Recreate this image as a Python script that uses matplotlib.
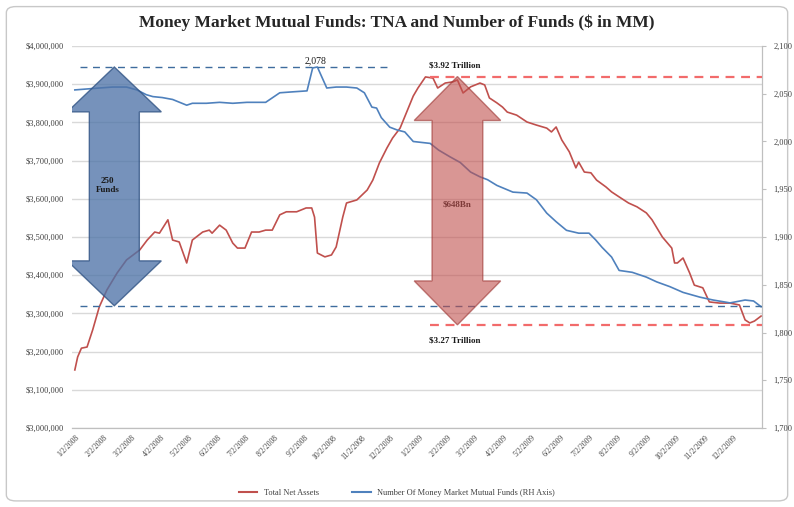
import numpy as np
import pandas as pd
import matplotlib
matplotlib.use('Agg')
import matplotlib.pyplot as plt
import matplotlib.dates as mdates
from matplotlib.patches import Polygon, FancyBboxPatch
from matplotlib.lines import Line2D
from matplotlib.ticker import FuncFormatter

plt.rcParams['font.family'] = ['Liberation Serif', 'DejaVu Serif']

# ---- data ----
tna_dates = ['2008-01-02', '2008-01-05', '2008-01-09', '2008-01-15', '2008-01-21', '2008-01-28',
             '2008-02-05', '2008-02-16', '2008-02-26', '2008-03-11', '2008-03-19', '2008-03-27',
             '2008-04-01', '2008-04-10', '2008-04-15', '2008-04-22', '2008-04-30', '2008-05-06',
             '2008-05-17', '2008-05-24', '2008-05-27', '2008-06-04', '2008-06-11', '2008-06-18',
             '2008-06-23', '2008-07-01', '2008-07-08', '2008-07-16', '2008-07-23', '2008-07-30',
             '2008-08-07', '2008-08-14', '2008-08-25', '2008-09-04', '2008-09-10', '2008-09-13',
             '2008-09-16', '2008-09-24', '2008-10-01', '2008-10-06', '2008-10-13', '2008-10-17',
             '2008-10-28', '2008-11-08', '2008-11-14', '2008-11-21', '2008-11-29', '2008-12-05',
             '2008-12-13', '2008-12-20', '2008-12-27', '2009-01-01', '2009-01-09', '2009-01-17',
             '2009-01-22', '2009-01-30', '2009-02-07', '2009-02-12', '2009-02-18', '2009-02-26',
             '2009-03-08', '2009-03-13', '2009-03-18', '2009-03-26', '2009-04-01', '2009-04-06',
             '2009-04-16', '2009-04-27', '2009-05-07', '2009-05-18', '2009-05-23', '2009-05-28',
             '2009-06-03', '2009-06-11', '2009-06-18', '2009-06-21', '2009-06-27', '2009-07-04',
             '2009-07-10', '2009-07-20', '2009-07-26', '2009-08-03', '2009-08-13', '2009-08-22',
             '2009-09-01', '2009-09-07', '2009-09-18', '2009-09-28', '2009-10-01', '2009-10-04',
             '2009-10-10', '2009-10-17', '2009-10-22', '2009-10-31', '2009-11-07', '2009-11-18',
             '2009-11-29', '2009-12-09', '2009-12-15', '2009-12-20', '2009-12-25', '2010-01-01']
tna = [3152, 3186, 3209, 3212, 3257, 3317,
       3361, 3406, 3440, 3466, 3492, 3513,
       3510, 3545, 3492, 3487, 3432, 3492,
       3513, 3518, 3510, 3531, 3518, 3484,
       3471, 3471, 3513, 3513, 3518, 3518,
       3558, 3566, 3566, 3576, 3576, 3552,
       3458, 3448, 3453, 3474, 3552, 3589,
       3597, 3623, 3649, 3694, 3733, 3759,
       3785, 3827, 3869, 3890, 3919, 3916,
       3890, 3903, 3906, 3911, 3877, 3893,
       3903, 3898, 3864, 3851, 3840, 3827,
       3819, 3801, 3793, 3785, 3775, 3788,
       3754, 3723, 3681, 3696, 3670, 3668,
       3649, 3631, 3618, 3605, 3589, 3579,
       3563, 3545, 3500, 3471, 3432, 3432,
       3445, 3406, 3374, 3367, 3330, 3327,
       3327, 3322, 3283, 3275, 3280, 3293]  # $ thousands (x1000 below)

fund_dates = ['2008-01-02', '2008-01-15', '2008-01-28', '2008-02-11', '2008-02-26', '2008-03-08',
              '2008-03-18', '2008-03-25', '2008-04-04', '2008-04-15', '2008-04-30', '2008-05-06',
              '2008-05-21', '2008-06-04', '2008-06-18', '2008-07-03', '2008-07-23', '2008-08-07',
              '2008-08-21', '2008-09-05', '2008-09-11', '2008-09-16', '2008-09-26', '2008-10-06',
              '2008-10-17', '2008-10-28', '2008-11-05', '2008-11-13', '2008-11-18', '2008-11-23',
              '2008-12-02', '2008-12-10', '2008-12-18', '2008-12-27', '2009-01-14', '2009-01-23',
              '2009-02-04', '2009-02-15', '2009-02-26', '2009-03-08', '2009-03-16', '2009-03-26',
              '2009-04-12', '2009-04-27', '2009-05-07', '2009-05-18', '2009-05-28', '2009-06-08',
              '2009-06-21', '2009-07-02', '2009-07-09', '2009-07-16', '2009-07-26', '2009-08-03',
              '2009-08-17', '2009-09-01', '2009-09-12', '2009-09-26', '2009-10-10', '2009-10-28',
              '2009-11-11', '2009-11-29', '2009-12-15', '2009-12-24', '2010-01-01']
funds = [2054, 2055, 2056, 2057, 2057, 2054,
         2049, 2047, 2046, 2044, 2038, 2040,
         2040, 2041, 2040, 2041, 2041, 2051,
         2052, 2053, 2077, 2078, 2056, 2057,
         2057, 2056, 2051, 2036, 2035, 2025,
         2015, 2012, 2010, 2000, 1998, 1991,
         1984, 1978, 1968, 1963, 1960, 1954,
         1947, 1946, 1939, 1925, 1916, 1907,
         1904, 1904, 1897, 1889, 1879, 1865,
         1863, 1858, 1853, 1848, 1842, 1837,
         1834, 1831, 1834, 1833, 1827]

month_ticks = pd.date_range('2008-01-01', '2009-12-01', freq='MS') + pd.Timedelta(days=1)
fund_peak, fund_low = 2078, 1828
tna_peak, tna_low = 3920000, 3270000

C_RED = '#c0504d'
C_BLUE = '#4f81bd'
C_GRID = '#d9d9d9'
C_TXT = '#404040'

tna_d = pd.to_datetime(tna_dates)
fund_d = pd.to_datetime(fund_dates)
tna_v = np.array(tna) * 1000.0

fig = plt.figure(figsize=(7.94, 5.07), dpi=100)
fig.patches.append(FancyBboxPatch((0.008, 0.012), 0.984, 0.975, boxstyle='round,pad=0,rounding_size=0.012',
                                  transform=fig.transFigure, facecolor='white', edgecolor='#c8c8c8',
                                  lw=1.0, zorder=-1))
ax = fig.add_axes([0.0907, 0.1558, 0.869, 0.7535])
ax2 = ax.twinx()
ax.set_facecolor('none')

ax.plot(tna_d, tna_v, color=C_RED, lw=1.2, zorder=3)
ax2.plot(fund_d, funds, color=C_BLUE, lw=1.2, zorder=3)

xmin, xmax = pd.Timestamp('2007-12-30'), pd.Timestamp('2010-01-02')
ax.set_xlim(xmin, xmax)
ax.set_ylim(3000000, 4000000)
ax2.set_ylim(1700, 2100)
ax.set_yticks(np.arange(3000000, 4000001, 100000))
ax2.set_yticks(np.arange(1700, 2101, 50))
ax.yaxis.set_major_formatter(FuncFormatter(lambda v, p: f'${v:,.0f}'))
ax2.yaxis.set_major_formatter(FuncFormatter(lambda v, p: f'{v:,.0f}'))
ax.grid(axis='y', color=C_GRID, lw=1.0)
ax.set_axisbelow(True)

ax.set_xticks(month_ticks)
ax.set_xticklabels([f'{d.month}/{d.day}/{d.year}' for d in month_ticks],
                   rotation=45, ha='right', rotation_mode='anchor', fontsize=5.5, color=C_TXT)
ax.tick_params(axis='x', length=0, pad=4)
ax.tick_params(axis='y', length=0, labelsize=6, colors=C_TXT, pad=6)
ax2.tick_params(axis='y', length=3, labelsize=6, colors=C_TXT, pad=5, color='#bfbfbf')
for a in (ax, ax2):
    for s in ('top', 'left'):
        a.spines[s].set_visible(False)
    a.spines['bottom'].set_color('#bfbfbf')
    a.spines['right'].set_color('#bfbfbf')

# reference dashed lines
ax2.plot([pd.Timestamp('2008-01-08'), pd.Timestamp('2008-12-02')], [fund_peak, fund_peak],
         color='#3e6c9e', ls=(0, (5, 4)), lw=1.0, zorder=4)
ax2.plot([pd.Timestamp('2008-01-08'), xmax], [fund_low, fund_low],
         color='#3e6c9e', ls=(0, (5, 4)), lw=1.0, zorder=4)
ax.plot([pd.Timestamp('2009-01-14'), xmax], [tna_peak, tna_peak],
        color='#f26b6b', ls=(0, (4, 3)), lw=1.6, zorder=4)
ax.plot([pd.Timestamp('2009-01-14'), xmax], [tna_low, tna_low],
        color='#f26b6b', ls=(0, (4, 3)), lw=1.6, zorder=4)


def double_arrow(a, xc, shaft_days, head_days, top, bot, head_len, trans, fc, ec, alpha):
    c = mdates.date2num(pd.Timestamp(xc))
    pts = [(c, top), (c + head_days, top - head_len), (c + shaft_days, top - head_len),
           (c + shaft_days, bot + head_len), (c + head_days, bot + head_len), (c, bot),
           (c - head_days, bot + head_len), (c - shaft_days, bot + head_len),
           (c - shaft_days, top - head_len), (c - head_days, top - head_len)]
    a.add_patch(Polygon(pts, closed=True, transform=trans, facecolor=fc, edgecolor=ec,
                        alpha=alpha, lw=1.0, zorder=6))


double_arrow(ax2, '2008-02-13', 26.6, 50, fund_peak, fund_low, 47, ax2.transData,
             '#4f74a8', '#2f5283', 0.78)
double_arrow(ax2, '2009-02-12', 27, 46, tna_peak, tna_low, 115000, ax.transData,
             '#c0504d', '#9b3330', 0.6)

ax2.text(pd.Timestamp('2008-02-06'), 1954, '250\nFunds', ha='center', va='center',
         fontsize=6.5, fontweight='bold', color='#1a1a1a', zorder=7, linespacing=1.1)
ax.text(pd.Timestamp('2009-02-12'), 3584000, '$648Bn', ha='center', va='center',
        fontsize=6.5, fontweight='bold', color='#1a1a1a', zorder=7)
ax2.text(pd.Timestamp('2008-09-14'), 2080, '2,078', ha='center', va='bottom',
         fontsize=7, color='#1a1a1a', zorder=7)
ax.text(pd.Timestamp('2009-02-09'), 3950000, '$3.92 Trillion', ha='center', va='center',
        fontsize=6.5, fontweight='bold', color='#1a1a1a', zorder=7)
ax.text(pd.Timestamp('2009-02-09'), 3230000, '$3.27 Trillion', ha='center', va='center',
        fontsize=6.5, fontweight='bold', color='#1a1a1a', zorder=7)

fig.text(0.5, 0.955, 'Money Market Mutual Funds: TNA and Number of Funds ($ in MM)',
         ha='center', va='center', fontsize=12.5, fontweight='bold', color='#262626')

handles = [Line2D([], [], color=C_RED, lw=1.5), Line2D([], [], color=C_BLUE, lw=1.5)]
fig.legend(handles, ['Total Net Assets', 'Number Of Money Market Mutual Funds (RH Axis)'],
           loc='center', bbox_to_anchor=(0.5, 0.027), ncol=2, frameon=False, fontsize=6,
           handlelength=2.2, columnspacing=4, labelcolor=C_TXT)

fig.savefig('out.png', dpi=100)
